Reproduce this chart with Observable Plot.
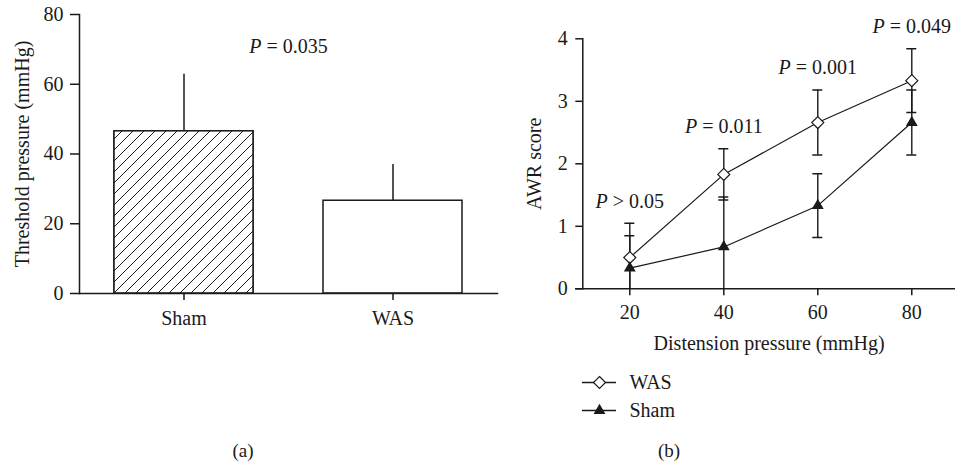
<!DOCTYPE html>
<html>
<head>
<meta charset="utf-8">
<script src="https://cdn.jsdelivr.net/npm/d3@7"></script>
<script src="https://cdn.jsdelivr.net/npm/@observablehq/plot@0.6"></script>
<style>
  html, body { margin: 0; padding: 0; background: #fff; }
  #root { position: relative; width: 955px; height: 464px; overflow: hidden; font-family: "Liberation Serif", "DejaVu Serif", serif; color: #1a1a1a; }
  .panel { position: absolute; top: 0; }
  .cap { position: absolute; font-size: 19px; transform: translateX(-50%); }
</style>
</head>
<body>
<div id="root">
  <div id="a" class="panel" style="left:0px"></div>
  <div id="b" class="panel" style="left:500px"></div>
  <div id="leg" class="panel" style="left:570px; top:365px"></div>
  <div class="cap" style="left:243px; top:440px">(a)</div>
  <div class="cap" style="left:669px; top:440px">(b)</div>
</div>
<script>
// ---- Panel (a) data ----
const groups = ["Sham", "WAS"];
const thresholdMean = [46.5, 26.6];
const thresholdSD = [16.4, 10.4];
const yTicksA = [0, 20, 40, 60, 80];
const pLabelA = "P = 0.035";

// ---- Panel (b) data ----
const pressures = [20, 40, 60, 80];
const wasMean = [0.50, 1.83, 2.66, 3.33];
const wasSD = [0.55, 0.41, 0.52, 0.51];
const shamMean = [0.33, 0.67, 1.33, 2.66];
const shamSD = [0.52, 0.80, 0.51, 0.52];
const pLabelsB = ["P > 0.05", "P = 0.011", "P = 0.001", "P = 0.049"];
const xTicksB = [20, 40, 60, 80];
const yTicksB = [0, 1, 2, 3, 4];
const seriesNames = ["WAS", "Sham"];

const INK = "#1a1a1a";
const baseStyle = {fontFamily: "Liberation Serif, DejaVu Serif, serif", fontSize: "20px", color: INK, background: "transparent", overflow: "visible"};

function italicP(svg) {
  svg.querySelectorAll("text").forEach(t => {
    const s = t.textContent;
    if (/^P [=>]/.test(s) && t.children.length === 0) {
      t.textContent = "";
      const ns = "http://www.w3.org/2000/svg";
      const a = document.createElementNS(ns, "tspan");
      a.setAttribute("font-style", "italic");
      a.textContent = "P";
      const b = document.createElementNS(ns, "tspan");
      b.textContent = s.slice(1);
      t.appendChild(a); t.appendChild(b);
    }
  });
}

// ---- Panel (a) ----
const barsA = groups.map((g, i) => ({group: g, mean: thresholdMean[i], sd: thresholdSD[i]}));
const plotA = Plot.plot({
  width: 500, height: 340,
  marginLeft: 79, marginRight: 3, marginTop: 14, marginBottom: 47,
  style: baseStyle,
  x: {type: "band", domain: groups, paddingInner: 0.335, paddingOuter: 0.1675},
  y: {domain: [0, 80]},
  marks: [
    Plot.ruleX(barsA, {x: "group", y1: "mean", y2: d => d.mean + d.sd, stroke: INK, strokeWidth: 1.5}),
    Plot.ruleY(barsA, {x: "group", y: d => d.mean + d.sd, insetLeft: 35, insetRight: 35, stroke: INK, strokeWidth: 1.8}),
    Plot.barY(barsA, {x: "group", y: "mean", fill: "white", stroke: INK, strokeWidth: 1.5}),
    Plot.barY(barsA.filter(d => d.group === "Sham"), {x: "group", y: "mean", fill: "url(#hatchA)", stroke: INK, strokeWidth: 1.5}),
    Plot.frame({anchor: "left", stroke: INK, strokeWidth: 1.5}),
    Plot.frame({anchor: "bottom", stroke: INK, strokeWidth: 1.5}),
    Plot.axisY({ticks: yTicksA, tickSize: 9, tickPadding: 7, strokeWidth: 1.5, label: "Threshold pressure (mmHg)", labelAnchor: "center", labelOffset: 65, labelArrow: false}),
    Plot.axisX({tickSize: 7, tickPadding: 10, strokeWidth: 1.5, label: null}),
    Plot.text([pLabelA], {frameAnchor: "top", dy: 24, fill: INK})
  ]
});
// hatch pattern definition
{
  const ns = "http://www.w3.org/2000/svg";
  const defs = document.createElementNS(ns, "defs");
  const pat = document.createElementNS(ns, "pattern");
  pat.setAttribute("id", "hatchA");
  pat.setAttribute("patternUnits", "userSpaceOnUse");
  pat.setAttribute("width", "11");
  pat.setAttribute("height", "11");
  const bg = document.createElementNS(ns, "rect");
  bg.setAttribute("width", "11"); bg.setAttribute("height", "11"); bg.setAttribute("fill", "white");
  const p = document.createElementNS(ns, "path");
  p.setAttribute("d", "M0,11L11,0M-2.75,2.75L2.75,-2.75M8.25,13.75L13.75,8.25");
  p.setAttribute("stroke", INK);
  p.setAttribute("stroke-width", "1");
  pat.appendChild(bg); pat.appendChild(p); defs.appendChild(pat);
  plotA.insertBefore(defs, plotA.firstChild);
}
italicP(plotA);
document.getElementById("a").appendChild(plotA);

// ---- Panel (b) ----
const rows = pressures.flatMap((p, i) => [
  {series: "WAS", x: p, mean: wasMean[i], sd: wasSD[i]},
  {series: "Sham", x: p, mean: shamMean[i], sd: shamSD[i]}
]);
const caps = rows.flatMap(d => [{x: d.x, v: d.mean + d.sd}, {x: d.x, v: d.mean - d.sd}]);
const plotB = Plot.plot({
  width: 455, height: 360,
  marginLeft: 82.3, marginRight: 0, marginTop: 38.3, marginBottom: 71.7,
  style: baseStyle,
  x: {domain: [10, 89.3]},
  y: {domain: [0, 4]},
  marks: [
    Plot.ruleX(rows, {x: "x", y1: d => d.mean - d.sd, y2: d => d.mean + d.sd, stroke: INK, strokeWidth: 1.4, clip: true}),
    Plot.ruleY(caps, {x1: "x", x2: "x", y: "v", insetLeft: -5, insetRight: -5, stroke: INK, strokeWidth: 1.6, clip: true}),
    Plot.line(rows, {x: "x", y: "mean", z: "series", stroke: INK, strokeWidth: 1.2}),
    Plot.dot(rows.filter(d => d.series === "WAS"), {x: "x", y: "mean", symbol: "diamond2", r: 5.4, fill: "white", stroke: INK, strokeWidth: 1.2}),
    Plot.dot(rows.filter(d => d.series === "Sham"), {x: "x", y: "mean", symbol: "triangle", r: 4.4, fill: INK}),
    Plot.frame({anchor: "left", stroke: INK, strokeWidth: 1.5}),
    Plot.frame({anchor: "bottom", stroke: INK, strokeWidth: 1.5, insetLeft: -7}),
    Plot.axisY({ticks: yTicksB, tickFormat: d3.format("d"), tickSize: 7, tickPadding: 8, strokeWidth: 1.5, label: "AWR score", labelAnchor: "center", labelOffset: 56, labelArrow: false}),
    Plot.axisX({ticks: xTicksB, tickFormat: d3.format("d"), tickSize: 7, tickPadding: 9, strokeWidth: 1.5, label: "Distension pressure (mmHg)", labelAnchor: "center", labelOffset: 61, labelArrow: false}),
    Plot.text(pressures, {x: d => d, y: (d, i) => wasMean[i] + wasSD[i], text: (d, i) => pLabelsB[i], dy: -22, fill: INK})
  ]
});
italicP(plotB);
document.getElementById("b").appendChild(plotB);

// ---- Legend ----
const legend = Plot.plot({
  width: 100, height: 60,
  margin: 0,
  style: baseStyle,
  x: {domain: [0, 1], range: [12, 46], axis: null},
  y: {type: "point", domain: seriesNames, range: [17, 45], padding: 0, axis: null},
  marks: [
    Plot.ruleY(seriesNames, {y: d => d, x1: 0, x2: 1, stroke: INK, strokeWidth: 1.3}),
    Plot.dot(["WAS"], {x: 0.5, y: d => d, symbol: "diamond2", r: 5.4, fill: "white", stroke: INK, strokeWidth: 1.2}),
    Plot.dot(["Sham"], {x: 0.5, y: d => d, symbol: "triangle", r: 4.4, fill: INK}),
    Plot.text(seriesNames, {x: 1, y: d => d, text: d => d, dx: 13, textAnchor: "start", fill: INK})
  ]
});
document.getElementById("leg").appendChild(legend);
</script>
</body>
</html>
